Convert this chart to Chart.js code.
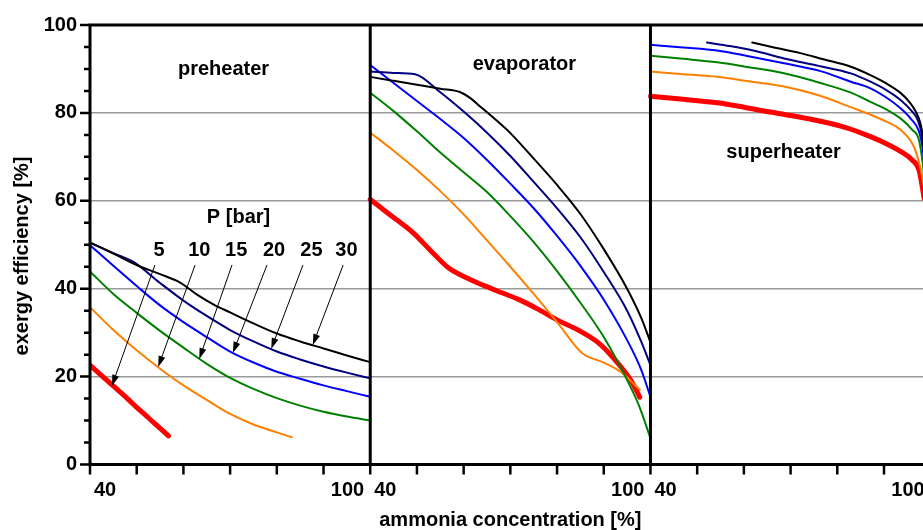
<!DOCTYPE html>
<html>
<head>
<meta charset="utf-8">
<title>Exergy efficiency vs ammonia concentration</title>
<script src="https://cdn.jsdelivr.net/npm/chart.js@4.4.1/dist/chart.umd.min.js"></script>
<style>
    html, body { margin: 0; padding: 0; background: #fff; overflow: hidden; }
    canvas { display: block; }
</style>
</head>
<body>
<canvas id="exergy-chart" width="940" height="530"></canvas>
<script>
/* Pressure levels and their line styles */
const pressures = [5, 10, 15, 20, 25, 30]
const colors = ["#ff0000", "#ff8000", "#008000", "#0000ff", "#000080", "#000000"]
const widths = [5, 2, 2, 2, 2, 2]

const panelNames = ["preheater", "evaporator", "superheater"]

/* [ammonia concentration %, exergy efficiency %] */
const pre5 = [[40, 22.6], [42, 20.7], [44, 18.8], [46, 16.9], [48, 15.0], [50, 13.0], [52, 11.1], [54, 9.2], [56.8, 6.5]]
const pre10 = [[40, 35.8], [45, 30.6], [50, 26.0], [55, 21.8], [60, 18.0], [65, 14.7], [70, 11.5], [75, 9.1], [80, 7.3], [83.2, 6.2]]
const pre15 = [[40, 43.9], [45, 38.8], [50, 34.5], [55, 30.4], [60, 26.6], [65, 22.9], [70, 19.7], [75, 17.2], [80, 15.1], [85, 13.4], [90, 12.0], [95, 10.9], [100, 10.0]]
const pre20 = [[40, 49.9], [45, 45.2], [50, 40.6], [55, 36.2], [60, 32.4], [65, 29.0], [70, 25.7], [75, 23.2], [80, 21.1], [85, 19.5], [90, 18.0], [95, 16.7], [100, 15.4]]
const pre25 = [[40, 50.5], [45, 48.1], [49.3, 46.1], [55, 41.3], [60, 37.3], [65, 33.8], [70, 30.6], [75, 28.0], [80, 25.7], [85, 23.9], [90, 22.3], [95, 20.9], [100, 19.6]]
const pre30 = [[40, 50.5], [45, 48.0], [50, 45.4], [55, 43.3], [59.3, 41.4], [63, 38.6], [66.5, 36.4], [70, 34.6], [75, 32.1], [80, 29.8], [85, 28.0], [90, 26.4], [95, 24.8], [100, 23.3]]

const eva5 = [[40, 60.3], [44, 57.0], [49.3, 52.6], [53, 48.6], [56.8, 44.7], [61.4, 42.1], [66, 40.0], [72.1, 37.4], [76, 35.3], [80, 32.9], [84.5, 30.6], [88.6, 27.9], [91, 25.5], [93.6, 22.3], [96, 18.8], [97.7, 15.3]]
const eva10 = [[40, 75.5], [45, 71.4], [50, 67.0], [55, 62.2], [60, 56.9], [65, 51.0], [70, 45.0], [75, 38.8], [80, 32.4], [85.4, 25.3], [90, 23.2], [93.6, 21.1], [97.7, 17.0]]
const eva15 = [[40, 84.6], [45, 80.4], [50, 75.8], [55, 71.0], [60, 66.5], [65, 62.0], [70, 56.5], [75, 50.6], [80, 44.0], [85, 36.8], [90, 29.0], [95, 19.2], [97.5, 13.5], [100, 6.0]]
const eva20 = [[40, 90.9], [45, 86.8], [50, 82.7], [55, 78.6], [60, 74.3], [65, 69.3], [70, 63.9], [75, 58.3], [80, 52.0], [85, 45.2], [90, 37.5], [95, 28.3], [98, 21.6], [100, 15.4]]
const eva25 = [[40, 89.4], [45, 89.1], [49.6, 88.8], [55, 84.7], [60, 80.3], [65, 75.5], [70, 70.2], [75, 64.3], [80, 58.3], [85, 51.7], [90, 43.8], [95, 35.0], [98, 28.0], [100, 22.6]]
const eva30 = [[40, 88.2], [45, 87.3], [50, 86.4], [55, 85.5], [59.3, 84.7], [61.5, 83.3], [63.6, 81.4], [67, 78.3], [70, 75.4], [75, 69.6], [80, 63.6], [85, 57.0], [90, 49.0], [95, 40.0], [98, 33.4], [100, 27.8]]

const sup5 = [[40, 83.8], [47, 83.1], [54.3, 82.3], [60, 81.3], [65, 80.3], [70, 79.4], [76.4, 78.1], [82, 76.6], [87.1, 74.6], [90.5, 73.0], [93.6, 71.2], [96, 69.3], [97.5, 67.0], [98.3, 62.5], [98.6, 60.5]]
const sup10 = [[40, 89.4], [47, 88.8], [54.3, 88.2], [61, 87.2], [68.6, 86.0], [76, 84.0], [82.9, 81.3], [87.1, 79.6], [90.5, 78.0], [93.6, 76.1], [96.4, 72.3], [97.9, 67.0], [98.5, 63.5]]
const sup15 = [[40, 93.0], [47, 92.3], [54.3, 91.5], [61, 90.4], [68.6, 89.0], [76.4, 86.8], [82.9, 84.6], [87.1, 82.5], [90.5, 80.8], [93.6, 78.7], [96, 76.2], [97.5, 73.8], [98.3, 68.5], [98.6, 65.5]]
const sup20 = [[40, 95.5], [47, 94.9], [54.3, 94.2], [61, 92.9], [68.6, 91.3], [76.4, 89.5], [82.9, 87.1], [87.1, 85.6], [90.5, 83.5], [93.6, 81.0], [95.8, 78.6], [97.5, 75.8], [98.2, 72.5], [98.6, 69.0]]
const sup25 = [[52.1, 96.0], [57, 95.2], [62, 94.2], [68.6, 92.4], [76, 90.7], [82.9, 89.0], [87.1, 87.1], [90.5, 85.2], [93.6, 82.9], [95.8, 80.6], [97.3, 78.2], [98.1, 75.0], [98.6, 71.0]]
const sup30 = [[61.8, 96.0], [66, 95.0], [72.1, 93.6], [77, 92.2], [82.9, 90.5], [87.1, 88.6], [90.5, 86.7], [93.6, 84.5], [95.5, 82.4], [96.7, 80.5], [97.7, 78.0], [98.2, 75.5], [98.6, 72.0]]

const preheater = [pre5, pre10, pre15, pre20, pre25, pre30]
const evaporator = [eva5, eva10, eva15, eva20, eva25, eva30]
const superheater = [sup5, sup10, sup15, sup20, sup25, sup30]

/* Axis ticks, each panel runs 40..100 */
const xTicks = [40, 50, 60, 70, 80, 90, 100]
const xLabels = ["40", "100"]
const yLabels = [0, 20, 40, 60, 80, 100]

/* Annotations in panel data units */
const panelLabelX = [68.6, 73.0, 68.5]
const panelLabelY = [89.8, 91.0, 71.1]
const pLabelX = [54.8, 63.4, 71.3, 79.4, 87.4, 94.9]
const pLabelY = 48.8
const arrowFrom = [[53.9, 45.4], [62.5, 45.4], [70.4, 45.4], [77.9, 45.4], [85.6, 45.4], [94.2, 45.4]]
const arrowTo = [[44.7, 17.9], [54.6, 22.2], [63.4, 24.0], [70.6, 25.4], [78.8, 26.3], [87.7, 27.2]]

const PANEL = 60
const FONT = "'Liberation Sans', Arial, sans-serif"
Chart.defaults.font.family = FONT

/* One dataset per pressure, panels shifted along x and split by a gap */
const panels = [preheater, evaporator, superheater]
const datasets = pressures.map((p, i) => {
    const data = []
    panels.forEach((panel, k) => {
        for (const [x, y] of panel[i]) data.push({ x: x + k * PANEL, y })
        data.push({ x: 100 + k * PANEL, y: null })
    })
    return {
        label: `${p} bar`,
        data,
        borderColor: colors[i],
        borderWidth: widths[i],
        pointRadius: 0,
        cubicInterpolationMode: "monotone",
        spanGaps: false,
        borderCapStyle: "round"
    }
})
datasets.reverse()

const panelFrame = {
    id: "panelFrame",
    afterDatasetsDraw(chart) {
        const { ctx, chartArea: { left, top, right, bottom }, scales: { x, y } } = chart
        const px = (k, v) => x.getPixelForValue(v + k * PANEL)

        ctx.save()
        ctx.strokeStyle = "#000"
        ctx.fillStyle = "#000"
        ctx.lineCap = "butt"

        // frame
        ctx.lineWidth = 3
        ctx.beginPath()
        ctx.moveTo(left - 1.5, top)
        ctx.lineTo(chart.width, top)
        ctx.moveTo(left - 1.5, bottom)
        ctx.lineTo(right, bottom)
        for (let k = 0; k <= panelNames.length; k++) {
            ctx.moveTo(px(k, 40), top)
            ctx.lineTo(px(k, 40), bottom + 1.5)
        }
        ctx.stroke()

        // tick marks
        ctx.lineWidth = 2.5
        ctx.beginPath()
        for (let v = 0; v <= 100; v += 5) {
            const py = y.getPixelForValue(v)
            ctx.moveTo(left - (v % 20 === 0 ? 10 : 6), py)
            ctx.lineTo(left, py)
        }
        for (let k = 0; k < panelNames.length; k++) {
            for (const t of xTicks) {
                ctx.moveTo(px(k, t), bottom)
                ctx.lineTo(px(k, t), bottom + 10)
            }
        }
        ctx.stroke()

        // x tick labels
        ctx.font = `bold 20px ${FONT}`
        ctx.textBaseline = "middle"
        for (let k = 0; k < panelNames.length; k++) {
            ctx.textAlign = "left"
            ctx.fillText(xLabels[0], px(k, 40) + 4, 490)
            ctx.textAlign = "right"
            ctx.fillText(xLabels[1], px(k, 100) - 6, 490)
        }

        // y title
        ctx.save()
        ctx.translate(22, 256)
        ctx.rotate(-Math.PI / 2)
        ctx.textAlign = "center"
        ctx.fillText("exergy efficiency [%]", 0, 0)
        ctx.restore()

        // panel names
        ctx.textAlign = "center"
        panelNames.forEach((name, k) => {
            ctx.fillText(name, px(k, panelLabelX[k]), y.getPixelForValue(panelLabelY[k]))
        })

        // pressure labels with arrows
        ctx.fillText("P [bar]", px(0, 71.8), y.getPixelForValue(56.1))
        pressures.forEach((p, i) => {
            ctx.fillText(String(p), px(0, pLabelX[i]), y.getPixelForValue(pLabelY))

            const x0 = px(0, arrowFrom[i][0]), y0 = y.getPixelForValue(arrowFrom[i][1])
            const x1 = px(0, arrowTo[i][0]), y1 = y.getPixelForValue(arrowTo[i][1])
            const a = Math.atan2(y1 - y0, x1 - x0)
            ctx.lineWidth = 1
            ctx.beginPath()
            ctx.moveTo(x0, y0)
            ctx.lineTo(x1 - 8 * Math.cos(a), y1 - 8 * Math.sin(a))
            ctx.stroke()
            ctx.beginPath()
            ctx.moveTo(x1, y1)
            ctx.lineTo(x1 - 11 * Math.cos(a) + 3.5 * Math.sin(a), y1 - 11 * Math.sin(a) - 3.5 * Math.cos(a))
            ctx.lineTo(x1 - 11 * Math.cos(a) - 3.5 * Math.sin(a), y1 - 11 * Math.sin(a) + 3.5 * Math.cos(a))
            ctx.closePath()
            ctx.fill()
        })

        ctx.restore()
    }
}

const config = {
    type: "line",
    data: { datasets },
    options: {
        responsive: false,
        animation: false,
        devicePixelRatio: 1,
        layout: { padding: { top: 25, right: 9.3, left: 0, bottom: 0 } },
        plugins: {
            legend: { display: false },
            tooltip: { enabled: false }
        },
        scales: {
            x: {
                type: "linear",
                min: 40,
                max: 40 + 3 * PANEL,
                ticks: { display: false },
                grid: { display: false },
                border: { display: false },
                title: {
                    display: true,
                    text: "ammonia concentration [%]",
                    color: "#000",
                    font: { size: 20, weight: "bold", lineHeight: 1 },
                    padding: { top: 0, bottom: 0 }
                },
                afterFit: (scale) => { scale.height = 65.5 }
            },
            y: {
                min: 0,
                max: 100,
                afterBuildTicks: (scale) => { scale.ticks = yLabels.map(v => ({ value: v })) },
                ticks: {
                    color: "#000",
                    font: { size: 20, weight: "bold" },
                    padding: 13
                },
                grid: {
                    drawTicks: false,
                    lineWidth: 1.5,
                    color: (c) => (c.tick && c.tick.value > 0 && c.tick.value < 100) ? "#9a9a9a" : "rgba(0,0,0,0)"
                },
                border: { display: false },
                afterFit: (scale) => { scale.width = 90 }
            }
        }
    },
    plugins: [panelFrame]
}

new Chart(document.querySelector("#exergy-chart"), config)
</script>
</body>
</html>
